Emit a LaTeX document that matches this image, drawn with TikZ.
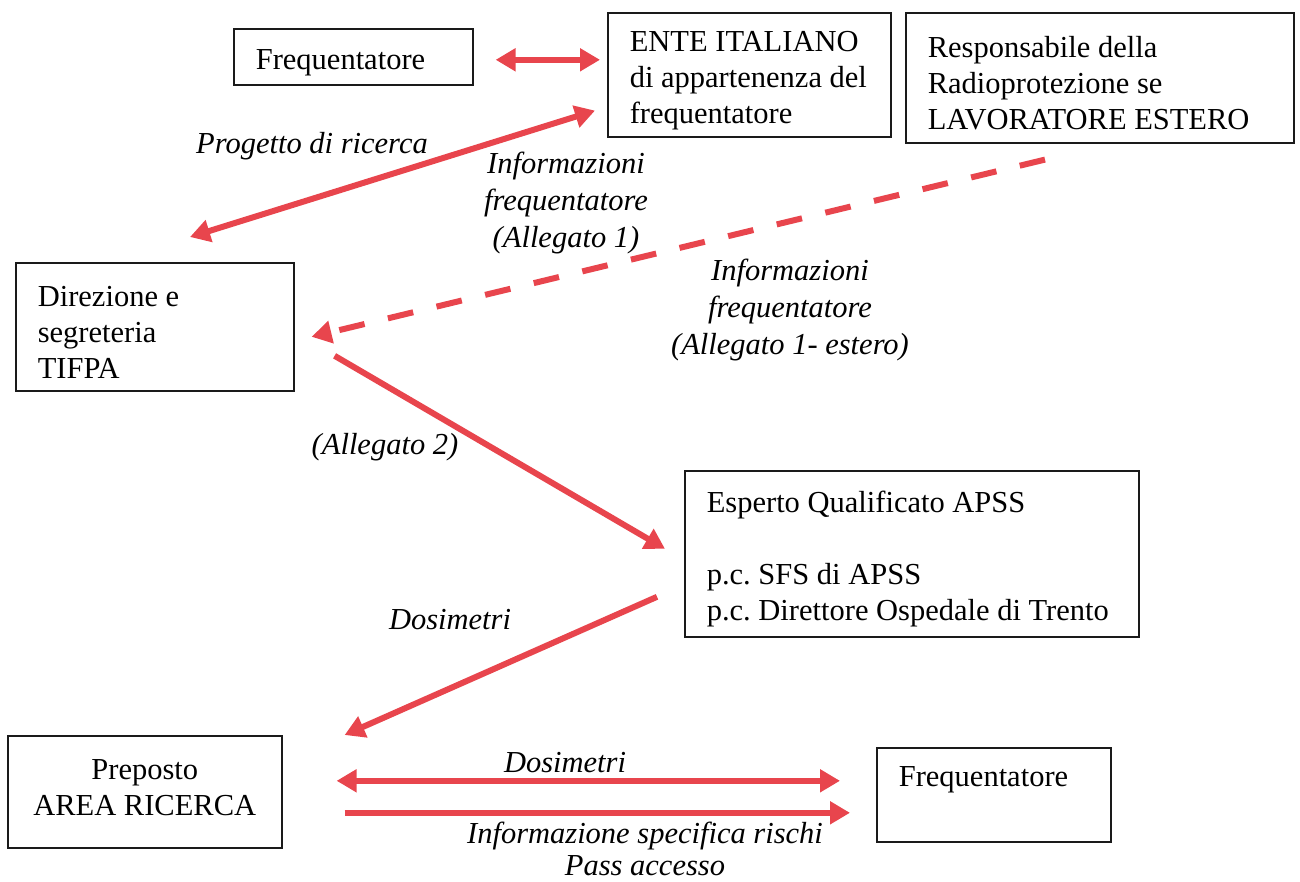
\documentclass[tikz,border=0pt]{standalone}
\usepackage{fontspec}
\setmainfont{Liberation Serif}
\usetikzlibrary{arrows.meta,positioning,calc}
\definecolor{FlowRed}{HTML}{E8454D}
\definecolor{BoxInk}{HTML}{1A1A1A}

\begin{document}
\frenchspacing
\begin{tikzpicture}[x=1pt, y=-1pt,
  box/.style={draw=BoxInk, line width=1.6pt, anchor=north west, align=flush left,
              inner xsep=22pt, text height=32pt, font=\fontsize{30.5}{36}\selectfont},
  lbl/.style={align=flush center, font=\fontsize{30.5}{37}\selectfont\itshape},
  arr/.style={draw=FlowRed, line width=6pt, -{Triangle[length=20pt,width=22pt]}},
  darr/.style={arr, {Triangle[length=20pt,width=22pt]}-{Triangle[length=20pt,width=22pt]}}]
  \useasboundingbox (0,0) rectangle (1300,881);

  % boxes
  \node[box, text width=195pt, minimum height=56pt] (fr1) at (233,28) {Frequentatore};
  \node[box, text width=239pt, minimum height=124pt] (ente) at (607,12)
       {ENTE ITALIANO\\ di appartenenza del\\ frequentatore};
  \node[box, text width=344pt, minimum height=130pt] (resp) at (905,12)
       {Responsabile della\\ Radioprotezione se\\ LAVORATORE ESTERO};
  \node[box, text width=234pt, minimum height=128pt] (dir) at (15,262)
       {Direzione e\\ segreteria\\ TIFPA};
  \node[box, text width=410pt, minimum height=166pt] (esp) at (684,470)
       {Esperto Qualificato APSS\\[36pt] p.c. SFS di APSS\\ p.c. Direttore Ospedale di Trento};
  \node[box, align=flush center, text width=230pt, minimum height=112pt,
        text height=20pt, text depth=44pt] (prep) at (7,735)
       {Preposto\\ AREA RICERCA};
  \node[box, text width=190pt, minimum height=94pt, text depth=48pt] (fr2) at (876,747)
       {Frequentatore};

  % connectors
  \draw[darr] ($(fr1.east)+(22,3)$) -- ($(fr1.east -| ente.west)+(-7,3)$);
  \draw[darr] ($(dir.north west)+(175,-25)$) -- ($(ente.south west)+(-12,-27)$);
  \draw[arr, dash pattern=on 26pt off 24pt] ($(resp.south west)+(140,16)$) -- ($(dir.east)+(17,10)$);
  \draw[arr] ($(dir.east)+(40,29)$) -- ($(esp.west)+(-19,-5)$);
  \draw[arr] ($(esp.west)+(-27,43)$) -- ($(prep.north east)+(62,0)$);
  \draw[darr] ($(prep.east)+(54,-11)$) -- ($(prep.east -| fr2.west)+(-36,-11)$);
  \draw[arr] ($(prep.east)+(62,21)$) -- ($(prep.east -| fr2.west)+(-26,21)$);

  % labels
  \node[lbl] (lProg) at (312,146) {Progetto di ricerca};
  \node[lbl] (lInfo) at (566,203) {Informazioni\\ frequentatore\\ (Allegato 1)};
  \node[lbl] (lEst) at (790,310) {Informazioni\\ frequentatore\\ (Allegato 1- estero)};
  \node[lbl] (lAll2) at (385,447) {(Allegato 2)};
  \node[lbl] (lDos1) at (450,620) {Dosimetri};
  \node[lbl] (lDos2) at (565,763) {Dosimetri};
  \node[lbl, font=\fontsize{30.5}{32}\selectfont\itshape, inner ysep=1pt] (lRis) at (645,849)
       {Informazione specifica rischi\\ Pass accesso};
\end{tikzpicture}
\end{document}
